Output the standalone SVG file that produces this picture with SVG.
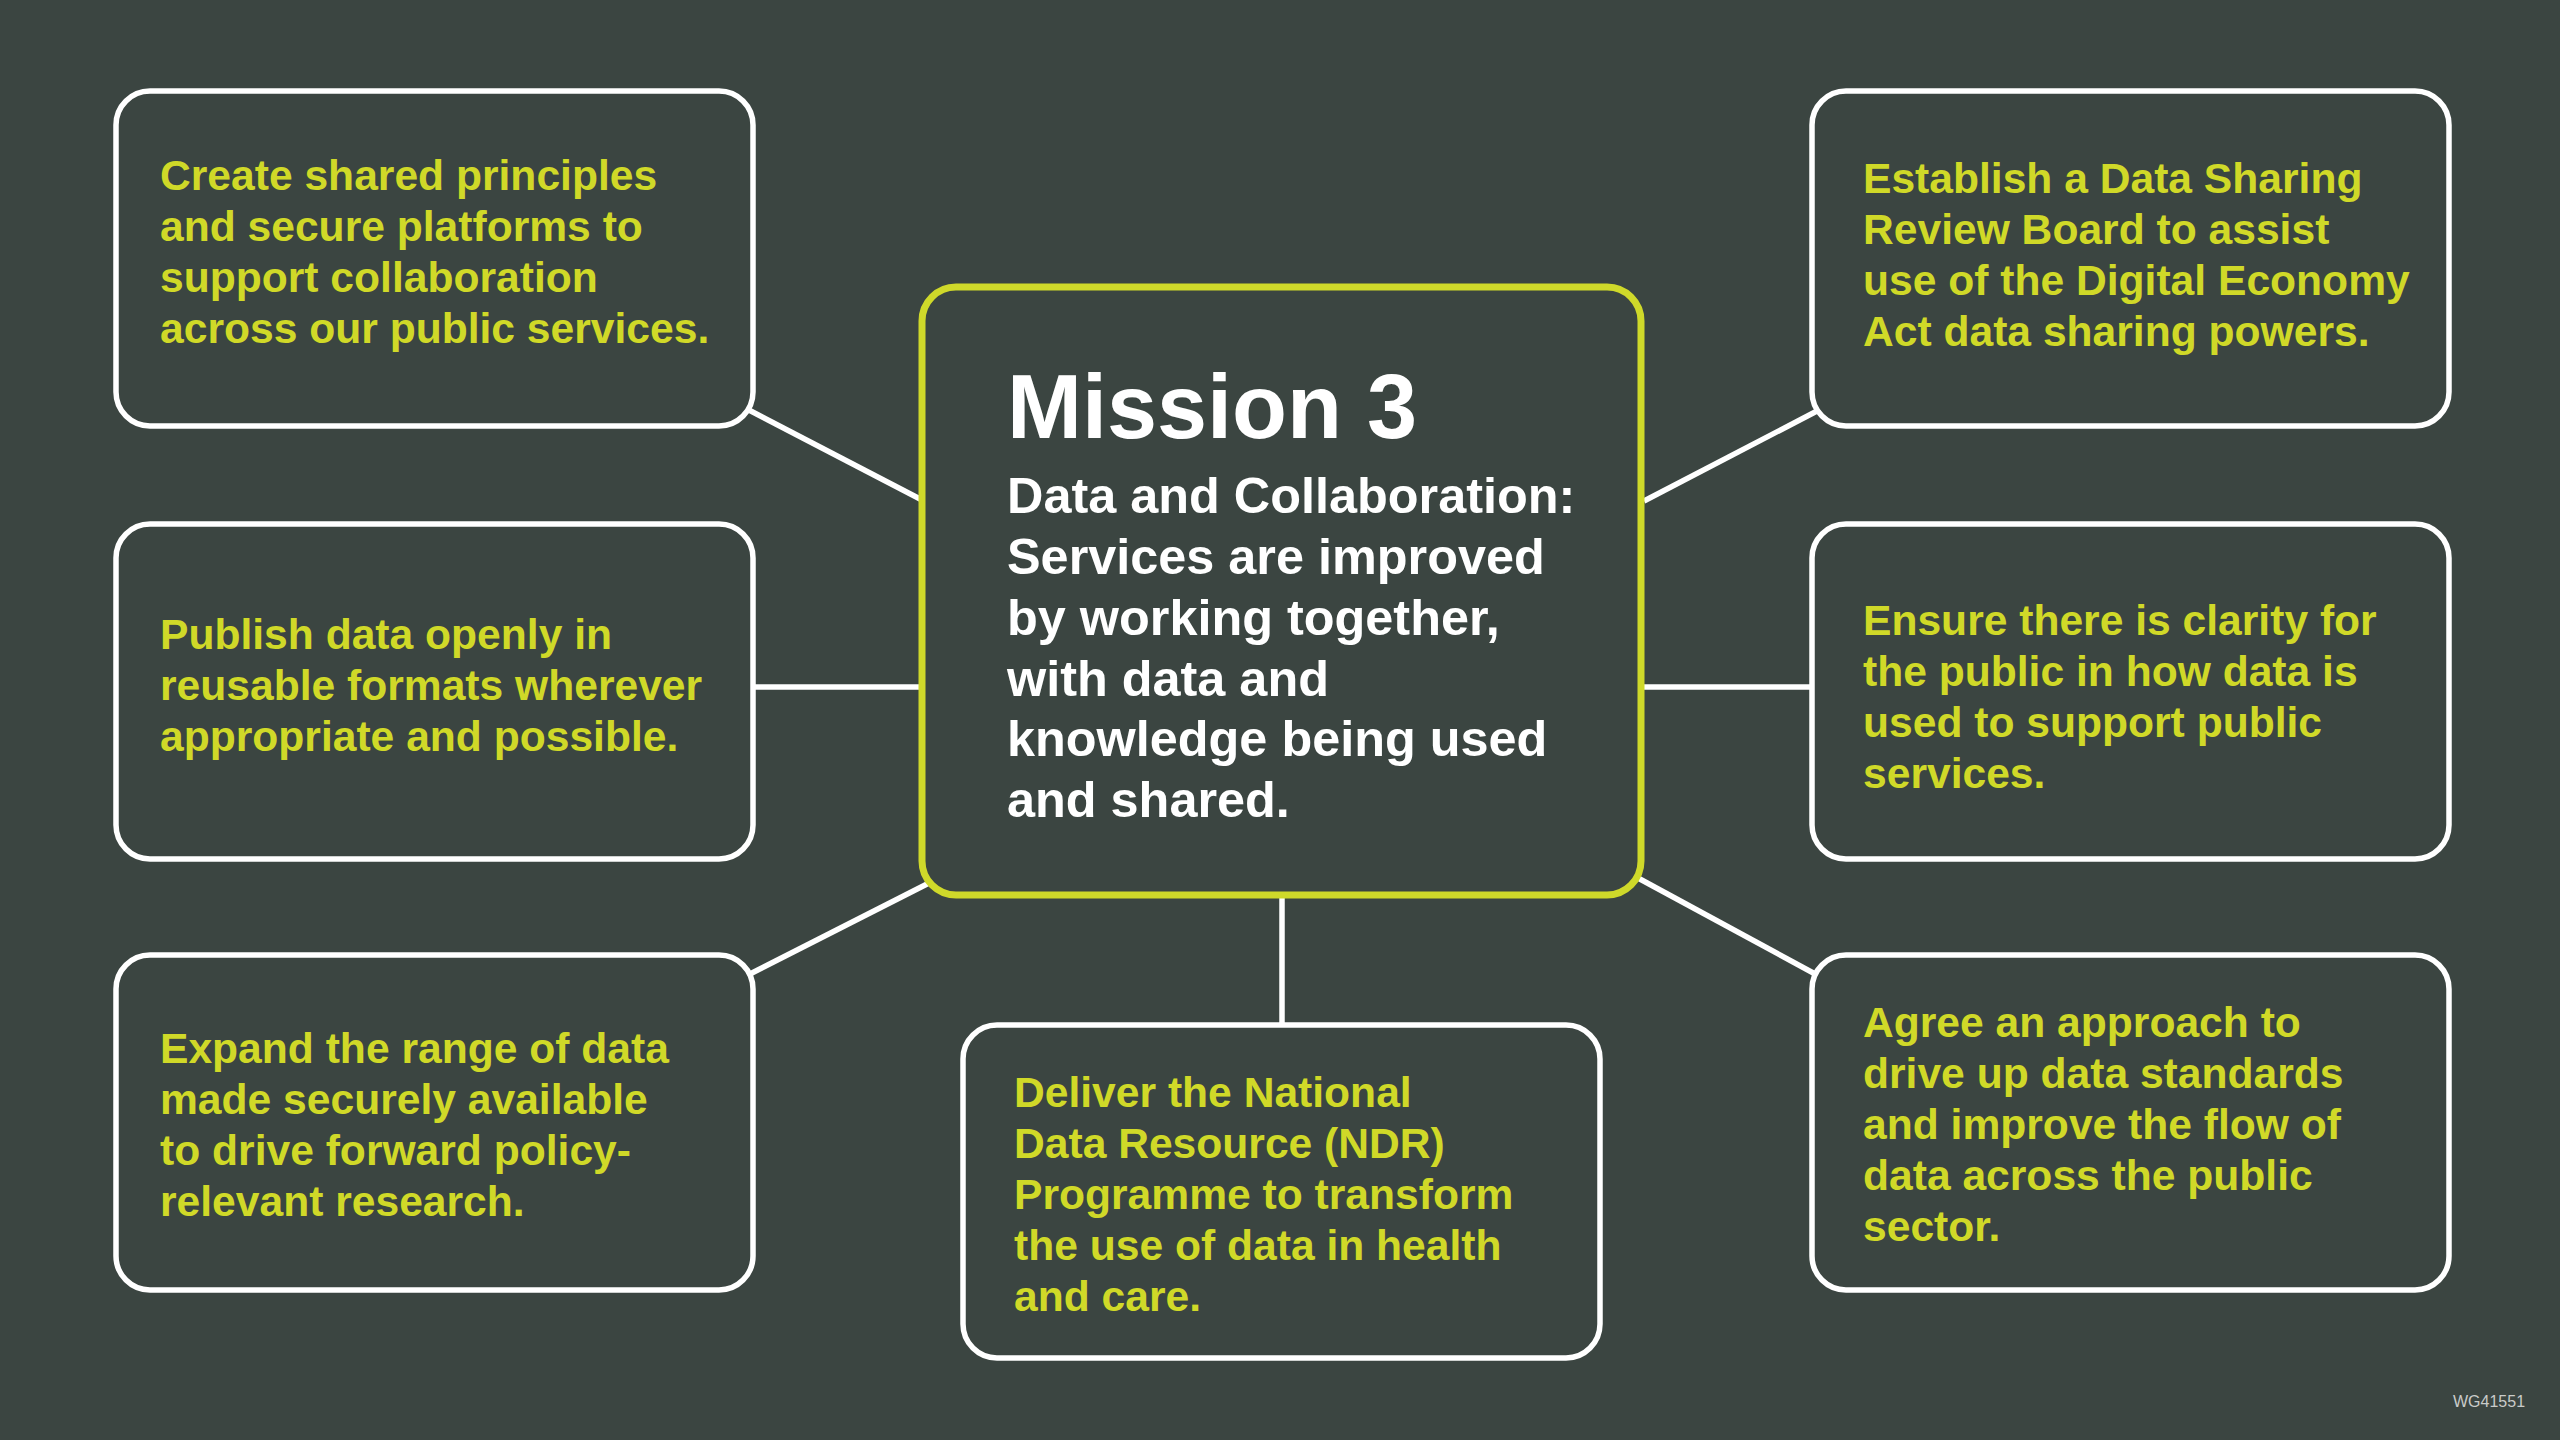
<svg xmlns="http://www.w3.org/2000/svg" width="2560" height="1440" viewBox="0 0 2560 1440">
<style>
.bg{fill:#3b4541}
.box{fill:#3b4541;stroke:#ffffff;stroke-width:5.5}
.center{fill:#3b4541;stroke:#cfd92a;stroke-width:7}
.conn line{stroke:#ffffff;stroke-width:5.5}
.t{font-family:"Liberation Sans",Arial,sans-serif;font-weight:bold;font-size:42.6px;fill:#d0d928}
.m{font-family:"Liberation Sans",Arial,sans-serif;font-weight:bold;fill:#ffffff}
.wg{font-family:"Liberation Sans",Arial,sans-serif;font-size:16px;fill:#c9cbc9}
</style>
<rect class="bg" x="0" y="0" width="2560" height="1440"/>
<g id="connectors" class="conn">
<line x1="745" y1="408" x2="922" y2="500"/>
<line x1="753" y1="687" x2="922" y2="687"/>
<line x1="748" y1="975" x2="931" y2="882"/>
<line x1="1644" y1="501" x2="1817" y2="411"/>
<line x1="1641" y1="687" x2="1812" y2="687"/>
<line x1="1638" y1="878" x2="1817" y2="975"/>
<line x1="1282" y1="895" x2="1282" y2="1025"/>
</g>
<g id="center">
<rect class="center" x="922" y="287" width="719" height="608" rx="34"/>
<text class="m" x="1007" y="438" font-size="90">Mission 3</text>
<text class="m" font-size="50.4"><tspan x="1007" y="513">Data and Collaboration:</tspan><tspan x="1007" y="574">Services are improved</tspan><tspan x="1007" y="635">by working together,</tspan><tspan x="1007" y="696">with data and</tspan><tspan x="1007" y="756">knowledge being used</tspan><tspan x="1007" y="817">and shared.</tspan></text>
</g>
<g id="node-top-left">
<rect class="box" x="116" y="91" width="637" height="335" rx="34"/>
<text class="t"><tspan x="160" y="190">Create shared principles</tspan><tspan x="160" y="241">and secure platforms to</tspan><tspan x="160" y="292">support collaboration</tspan><tspan x="160" y="343">across our public services.</tspan></text>
</g>
<g id="node-mid-left">
<rect class="box" x="116" y="524" width="637" height="335" rx="34"/>
<text class="t"><tspan x="160" y="649">Publish data openly in</tspan><tspan x="160" y="700">reusable formats wherever</tspan><tspan x="160" y="751">appropriate and possible.</tspan></text>
</g>
<g id="node-bottom-left">
<rect class="box" x="116" y="955" width="637" height="335" rx="34"/>
<text class="t"><tspan x="160" y="1063">Expand the range of data</tspan><tspan x="160" y="1114">made securely available</tspan><tspan x="160" y="1165">to drive forward policy-</tspan><tspan x="160" y="1216">relevant research.</tspan></text>
</g>
<g id="node-top-right">
<rect class="box" x="1812" y="91" width="637" height="335" rx="34"/>
<text class="t"><tspan x="1863" y="193">Establish a Data Sharing</tspan><tspan x="1863" y="244">Review Board to assist</tspan><tspan x="1863" y="295">use of the Digital Economy</tspan><tspan x="1863" y="346">Act data sharing powers.</tspan></text>
</g>
<g id="node-mid-right">
<rect class="box" x="1812" y="524" width="637" height="335" rx="34"/>
<text class="t"><tspan x="1863" y="635">Ensure there is clarity for</tspan><tspan x="1863" y="686">the public in how data is</tspan><tspan x="1863" y="737">used to support public</tspan><tspan x="1863" y="788">services.</tspan></text>
</g>
<g id="node-bottom-right">
<rect class="box" x="1812" y="955" width="637" height="335" rx="34"/>
<text class="t"><tspan x="1863" y="1037">Agree an approach to</tspan><tspan x="1863" y="1088">drive up data standards</tspan><tspan x="1863" y="1139">and improve the flow of</tspan><tspan x="1863" y="1190">data across the public</tspan><tspan x="1863" y="1241">sector.</tspan></text>
</g>
<g id="node-bottom-center">
<rect class="box" x="963" y="1025" width="637" height="333" rx="34"/>
<text class="t"><tspan x="1014" y="1107">Deliver the National</tspan><tspan x="1014" y="1158">Data Resource (NDR)</tspan><tspan x="1014" y="1209">Programme to transform</tspan><tspan x="1014" y="1260">the use of data in health</tspan><tspan x="1014" y="1311">and care.</tspan></text>
</g>
<text class="wg" x="2453" y="1407">WG41551</text>
</svg>
